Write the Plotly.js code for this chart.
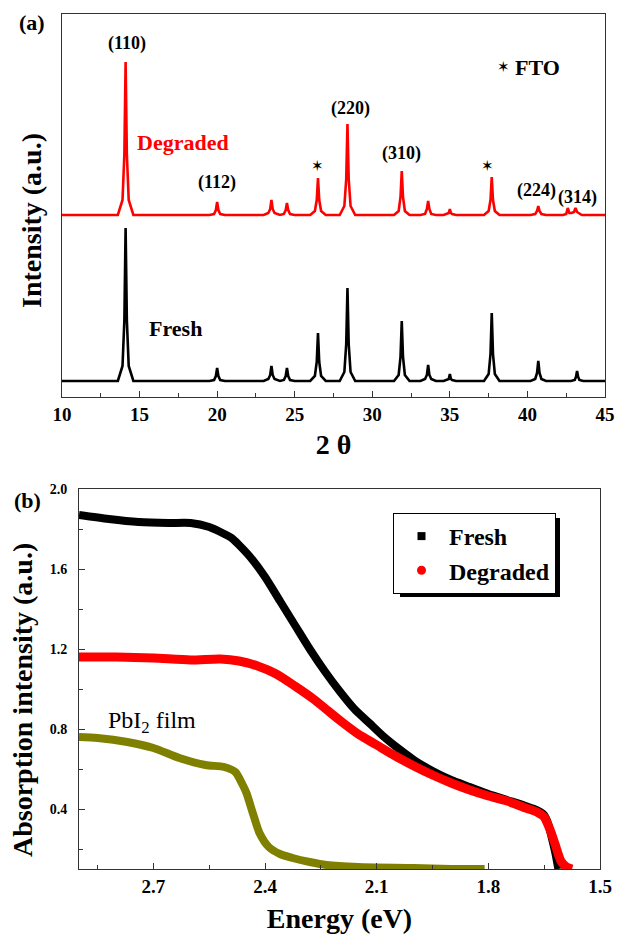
<!DOCTYPE html>
<html><head><meta charset="utf-8">
<script src="https://cdn.plot.ly/plotly-3.0.1.min.js"></script>
<style>html,body{margin:0;padding:0;background:#fff}#chart{width:621px;height:934px}</style>
</head><body><div id="chart"></div>
<script>
// ---- Panel (a): XRD patterns (2 theta, intensity a.u. with vertical offset) ----
const freshX = [10,
 13.6,13.9,14.02,14.1,14.18,14.3,14.6,
 19.5,19.8,19.92,20.0,20.08,20.2,20.5,
 23.0,23.3,23.42,23.5,23.58,23.7,24.0,
 24.05,24.3,24.42,24.5,24.58,24.7,25.0,
 26.0,26.3,26.42,26.5,26.58,26.7,27.0,
 27.9,28.2,28.32,28.4,28.48,28.6,28.9,
 31.4,31.7,31.82,31.9,31.98,32.1,32.4,
 33.1,33.4,33.52,33.6,33.68,33.8,34.1,
 34.6,34.85,34.93,35.0,35.07,35.15,35.4,
 37.2,37.5,37.62,37.7,37.78,37.9,38.2,
 40.2,40.5,40.62,40.7,40.78,40.9,41.2,
 42.8,43.05,43.13,43.2,43.27,43.35,43.6,
 45];
const freshY = [14,
 14,29,75,167,75,29,14,
 14,15,19,27,19,15,14,
 14,16,20,29,20,16,14,
 14,15,19,27,19,15,14,
 14,19,33,62,33,19,14,
 14,23,51,107,51,23,14,
 14,20,38,74,38,20,14,
 14,16,20,30,20,16,14,
 14,15,16,21,16,15,14,
 14,21,41,82,41,21,14,
 14,16,22,34,22,16,14,
 14,15,18,24,18,15,14,
 14];
const degradedX = [10,
 13.6,13.9,14.02,14.1,14.18,14.3,14.6,
 19.5,19.8,19.92,20.0,20.08,20.2,20.5,
 23.0,23.3,23.42,23.5,23.58,23.7,24.0,
 24.05,24.3,24.42,24.5,24.58,24.7,25.0,
 26.0,26.3,26.42,26.5,26.58,26.7,27.0,
 27.9,28.2,28.32,28.4,28.48,28.6,28.9,
 31.4,31.7,31.82,31.9,31.98,32.1,32.4,
 33.1,33.4,33.52,33.6,33.68,33.8,34.1,
 34.6,34.85,34.93,35.0,35.07,35.15,35.4,
 37.2,37.5,37.62,37.7,37.78,37.9,38.2,
 40.2,40.5,40.62,40.7,40.78,40.9,41.2,
 42.3,42.5,42.6,42.7,42.85,
 43.0,43.1,43.2,43.5,
 45];
const degradedY = [180,
 180,195,241,333,241,195,180,
 180,181,185,193,185,181,180,
 180,182,186,195,186,182,180,
 180,181,185,192,185,181,180,
 180,184,195,217,195,184,180,
 180,189,216,271,216,189,180,
 180,184,198,224,198,184,180,
 180,181,186,194,186,181,180,
 180,181,182,186,182,181,180,
 180,184,195,218,195,184,180,
 180,181,184,189,184,181,180,
 180,181,187,182,182,
 183,187,183,180,
 180];
const xrdTickVals = [10,15,20,25,30,35,40,45];
const peakLabels = ["(110)","(112)","(220)","(310)","(224)","(314)"];
const peakLabelX = [14.2,20.0,28.6,31.9,40.6,43.2];
const peakLabelY = [352,213,287,242,205,198];
const ftoStarX = [26.45,37.45];
const ftoStarY = [229,229];

// ---- Panel (b): absorption vs energy ----
const freshE = [2.90,2.82,2.74,2.66,2.60,2.55,2.52,2.49,2.47,2.44,2.40,2.36,2.32,2.28,2.24,2.20,2.16,2.12,2.08,2.04,2.00,1.95,1.90,1.85,1.80,1.75,1.70,1.67,1.65,1.64,1.63,1.62,1.612];
const freshAbs = [1.87,1.85,1.835,1.83,1.83,1.81,1.785,1.755,1.72,1.66,1.56,1.44,1.32,1.20,1.09,0.99,0.90,0.83,0.76,0.70,0.645,0.59,0.545,0.51,0.475,0.445,0.415,0.395,0.37,0.33,0.26,0.18,0.10];
const degradedE = [2.90,2.80,2.70,2.60,2.52,2.47,2.42,2.37,2.32,2.27,2.23,2.19,2.15,2.10,2.05,2.00,1.95,1.90,1.85,1.80,1.75,1.70,1.67,1.65,1.635,1.62,1.605,1.59,1.575];
const degradedAbs = [1.16,1.16,1.155,1.145,1.15,1.14,1.115,1.075,1.015,0.95,0.89,0.83,0.775,0.72,0.665,0.615,0.57,0.53,0.495,0.465,0.44,0.405,0.385,0.36,0.30,0.22,0.14,0.11,0.10];
const pbi2E = [2.90,2.85,2.77,2.70,2.63,2.56,2.51,2.48,2.46,2.45,2.433,2.415,2.39,2.36,2.326,2.28,2.235,2.15,2.00,1.90,1.81];
const pbi2Abs = [0.76,0.755,0.735,0.705,0.655,0.62,0.61,0.585,0.52,0.48,0.38,0.28,0.21,0.175,0.155,0.135,0.12,0.11,0.105,0.10,0.10];

const FONT = "Liberation Serif, Times New Roman, serif";
const B = (s)=>({family:FONT, size:s, color:"black", weight:"bold"});

const traces = [
  {x:freshX, y:freshY, mode:"lines", line:{color:"black", width:2.6}, xaxis:"x", yaxis:"y", showlegend:false, name:"Fresh XRD"},
  {x:degradedX, y:degradedY, mode:"lines", line:{color:"#ff0000", width:2.6}, xaxis:"x", yaxis:"y", showlegend:false, name:"Degraded XRD"},
  {x:pbi2E, y:pbi2Abs, mode:"lines", line:{color:"#808000", width:8, shape:"spline", smoothing:0.7}, xaxis:"x2", yaxis:"y2", showlegend:false, name:"PbI2 film"},
  {x:freshE, y:freshAbs, mode:"lines", line:{color:"black", width:8, shape:"spline", smoothing:0.7}, xaxis:"x2", yaxis:"y2", showlegend:false, name:"Fresh"},
  {x:degradedE, y:degradedAbs, mode:"lines", line:{color:"#ff0000", width:9, shape:"spline", smoothing:0.7}, xaxis:"x2", yaxis:"y2", showlegend:false, name:"Degraded"},
  {x:[null], y:[null], mode:"markers", marker:{symbol:"square", color:"black", size:8}, xaxis:"x2", yaxis:"y2", name:"Fresh"},
  {x:[null], y:[null], mode:"markers", marker:{symbol:"circle", color:"#ff0000", size:9}, xaxis:"x2", yaxis:"y2", name:"Degraded"}
];

const ann = [];
peakLabels.forEach((t,i)=>ann.push({x:peakLabelX[i], y:peakLabelY[i], xref:"x", yref:"y", text:t, showarrow:false, font:B(18)}));
ftoStarX.forEach((x,i)=>ann.push({x:x, y:ftoStarY[i], xref:"x", yref:"y", text:"✶", showarrow:false, font:{family:"DejaVu Sans", size:15, color:"black"}}));
ann.push({x:38.45, y:328, xref:"x", yref:"y", text:"✶", showarrow:false, font:{family:"DejaVu Sans", size:15, color:"black"}});
ann.push({x:39.1, y:328, xref:"x", yref:"y", text:"FTO", xanchor:"left", showarrow:false, font:B(22)});
ann.push({x:17.8, y:253, xref:"x", yref:"y", text:"Degraded", showarrow:false, font:{family:FONT, size:22, color:"#ff0000", weight:"bold"}});
ann.push({x:17.3, y:67, xref:"x", yref:"y", text:"Fresh", showarrow:false, font:B(22)});
ann.push({x:32/621, y:1-23/934, xref:"paper", yref:"paper", xanchor:"center", yanchor:"middle", text:"(a)", showarrow:false, font:B(22)});
ann.push({x:27/621, y:1-500/934, xref:"paper", yref:"paper", xanchor:"center", yanchor:"middle", text:"(b)", showarrow:false, font:B(22)});
ann.push({x:2.704, y:0.835, xref:"x2", yref:"y2", text:"PbI<sub>2</sub> film", showarrow:false, font:{family:FONT, size:24, color:"black"}});
// y-axis titles (placed as in the reference, slightly below the axis centres)
ann.push({x:31/621, y:1-221/934, xref:"paper", yref:"paper", xanchor:"center", yanchor:"middle", textangle:-90, text:"Intensity (a.u.)", showarrow:false, font:B(28)});
ann.push({x:22/621, y:1-700/934, xref:"paper", yref:"paper", xanchor:"center", yanchor:"middle", textangle:-90, text:"Absorption intensity (a.u.)", showarrow:false, font:B(28)});

const layout = {
  width:621, height:934,
  margin:{l:0, r:0, t:0, b:0},
  paper_bgcolor:"white", plot_bgcolor:"white",
  font:{family:FONT, color:"black"},
  xaxis:{domain:[62/621, 605/621], anchor:"y", range:[10,45], tickvals:xrdTickVals, ticks:"inside", ticklen:6, tickcolor:"#333",
    minor:{dtick:2.5, tick0:10, ticks:"inside", ticklen:4, tickcolor:"#333"},
    showline:true, linecolor:"#333", linewidth:1, mirror:true, showgrid:false, zeroline:false,
    tickfont:B(19), title:{text:"2 θ", font:B(28), standoff:10}},
  yaxis:{domain:[(934-397)/934, (934-14)/934], anchor:"x", range:[-2,381], showticklabels:false, ticks:"",
    showline:true, linecolor:"#333", linewidth:1, mirror:true, showgrid:false, zeroline:false},
  xaxis2:{domain:[79/621, 600/621], anchor:"y2", range:[2.9,1.5], dtick:0.3, tick0:1.5, ticks:"inside", ticklen:6, tickcolor:"#333",
    minor:{dtick:0.15, tick0:1.5, ticks:"inside", ticklen:4, tickcolor:"#333"},
    showline:true, linecolor:"#333", linewidth:1, mirror:true, showgrid:false, zeroline:false,
    tickfont:B(19), tickformat:".1f", title:{text:"Energy (eV)", font:B(28), standoff:20}},
  yaxis2:{domain:[(934-869)/934, (934-489)/934], anchor:"x2", range:[0.1,2.0], dtick:0.4, tick0:0.4, ticks:"inside", ticklen:6, tickcolor:"#333",
    minor:{dtick:0.2, tick0:0.2, ticks:"inside", ticklen:4, tickcolor:"#333"},
    showline:true, linecolor:"#333", linewidth:1, mirror:true, showgrid:false, zeroline:false, ticklabelstandoff:8,
    tickfont:B(14), tickformat:".1f"},
  legend:{x:393/621, y:1-513/934, xanchor:"left", yanchor:"top", bgcolor:"white", bordercolor:"black", borderwidth:1,
    font:B(24), itemwidth:45, tracegroupgap:0},
  shapes:[{type:"rect", xref:"paper", yref:"paper", x0:400/621, x1:560/621, y0:1-597/934, y1:1-518/934, fillcolor:"black", line:{width:0}, layer:"above"}],
  annotations:ann
};

Plotly.newPlot("chart", traces, layout, {displayModeBar:false, staticPlot:true});
</script></body></html>
